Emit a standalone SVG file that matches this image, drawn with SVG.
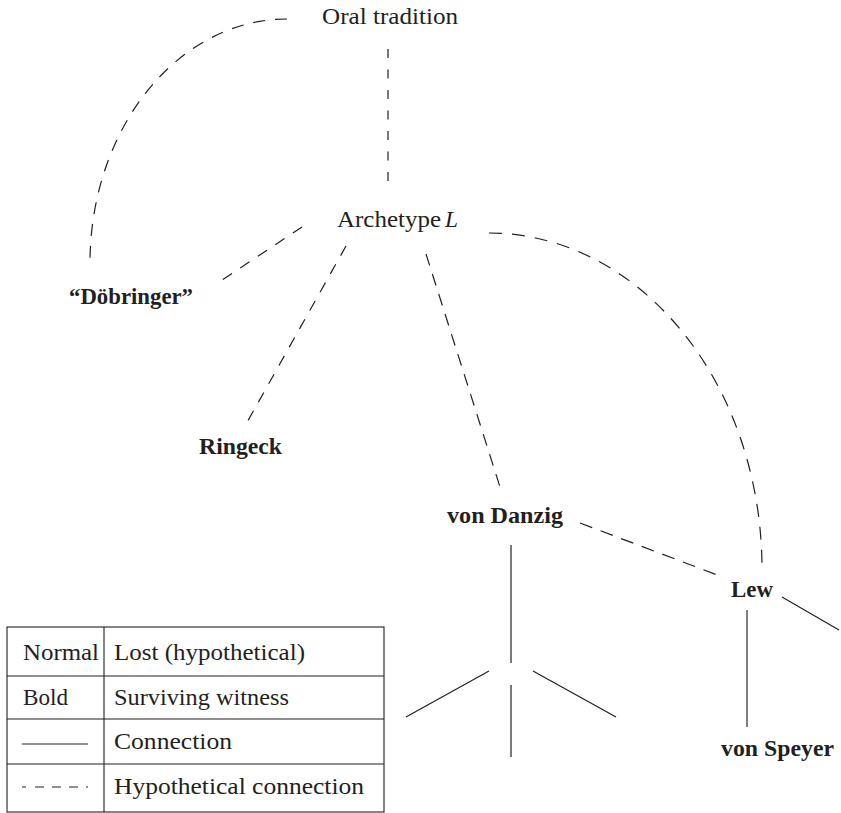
<svg xmlns="http://www.w3.org/2000/svg" width="841" height="813" viewBox="0 0 841 813">
  <style>
    text { font-family: "Liberation Serif", "Times New Roman", serif; font-size: 24px; fill: #231f20; }
    .w { font-weight: bold; }
    .it { font-style: italic; }
    .ln { fill: none; stroke: #231f20; stroke-width: 1.2; }
    .hy { fill: none; stroke: #231f20; stroke-width: 1.2; stroke-dasharray: 11 10; }
    .cell { fill: none; stroke: #231f20; stroke-width: 1.1; }
  </style>
  <rect width="841" height="813" fill="#ffffff"/>

  <!-- connectors -->
  <g id="connectors">
    <!-- hypothetical links -->
    <path class="hy" d="M388,49 L388,182" style="stroke-dasharray:9 11.5"/>
    <path class="hy" d="M287,19 A197,244 0 0 0 90,263" style="stroke-dasharray:12 10"/>
    <path class="hy" d="M302,227 L219,282"/>
    <path class="hy" d="M346,246 L245,426"/>
    <path class="hy" d="M426,254 L500,487" style="stroke-dasharray:12 9"/>
    <path class="hy" d="M489,233 A273,336 0 0 1 762,569" style="stroke-dasharray:13 10"/>
    <path class="hy" d="M580,523 L720,576" style="stroke-dasharray:13 9"/>
    <!-- attested links -->
    <path class="ln" d="M511,545 L511,663"/>
    <path class="ln" d="M489,671 L406,717"/>
    <path class="ln" d="M533,671 L616,717"/>
    <path class="ln" d="M511,685 L511,757"/>
    <path class="ln" d="M747,610 L747,727" style="stroke:#555555;stroke-width:1.5"/>
    <path class="ln" d="M782,597 L839,630"/>
  </g>

  <!-- nodes -->
  <g id="node-oral-tradition">
    <text x="322" y="24" textLength="136" lengthAdjust="spacingAndGlyphs">Oral tradition</text>
  </g>
  <g id="node-archetype-l">
    <text x="337" y="227" textLength="104" lengthAdjust="spacingAndGlyphs">Archetype</text>
    <text class="it" x="445" y="227" textLength="13" lengthAdjust="spacingAndGlyphs">L</text>
  </g>
  <g id="node-doebringer">
    <text class="w" x="69" y="304" textLength="124" lengthAdjust="spacingAndGlyphs">“Döbringer”</text>
  </g>
  <g id="node-ringeck">
    <text class="w" x="199" y="454" textLength="83" lengthAdjust="spacingAndGlyphs">Ringeck</text>
  </g>
  <g id="node-von-danzig">
    <text class="w" x="447" y="523" textLength="116" lengthAdjust="spacingAndGlyphs">von Danzig</text>
  </g>
  <g id="node-lew">
    <text class="w" x="731" y="597" textLength="42" lengthAdjust="spacingAndGlyphs">Lew</text>
  </g>
  <g id="node-von-speyer">
    <text class="w" x="721" y="756" textLength="113" lengthAdjust="spacingAndGlyphs">von Speyer</text>
  </g>

  <!-- key -->
  <g id="legend">
    <rect class="cell" x="7" y="627" width="377" height="185"/>
    <line class="cell" x1="104" y1="627" x2="104" y2="812"/>
    <line class="cell" x1="7" y1="676" x2="384" y2="676"/>
    <line class="cell" x1="7" y1="719" x2="384" y2="719"/>
    <line class="cell" x1="7" y1="764" x2="384" y2="764"/>
    <text x="23" y="660" textLength="76" lengthAdjust="spacingAndGlyphs">Normal</text>
    <text x="114" y="660" textLength="191" lengthAdjust="spacingAndGlyphs">Lost (hypothetical)</text>
    <text x="23" y="705" textLength="45" lengthAdjust="spacingAndGlyphs">Bold</text>
    <text x="114" y="705" textLength="175" lengthAdjust="spacingAndGlyphs">Surviving witness</text>
    <line class="ln" x1="22" y1="744" x2="88" y2="744"/>
    <text x="114" y="749" textLength="118" lengthAdjust="spacingAndGlyphs">Connection</text>
    <line class="ln" x1="22" y1="787" x2="88" y2="787" style="stroke-dasharray:4 9 9 8 9 8 9 8 2"/>
    <text x="114" y="794" textLength="250" lengthAdjust="spacingAndGlyphs">Hypothetical connection</text>
  </g>
</svg>
